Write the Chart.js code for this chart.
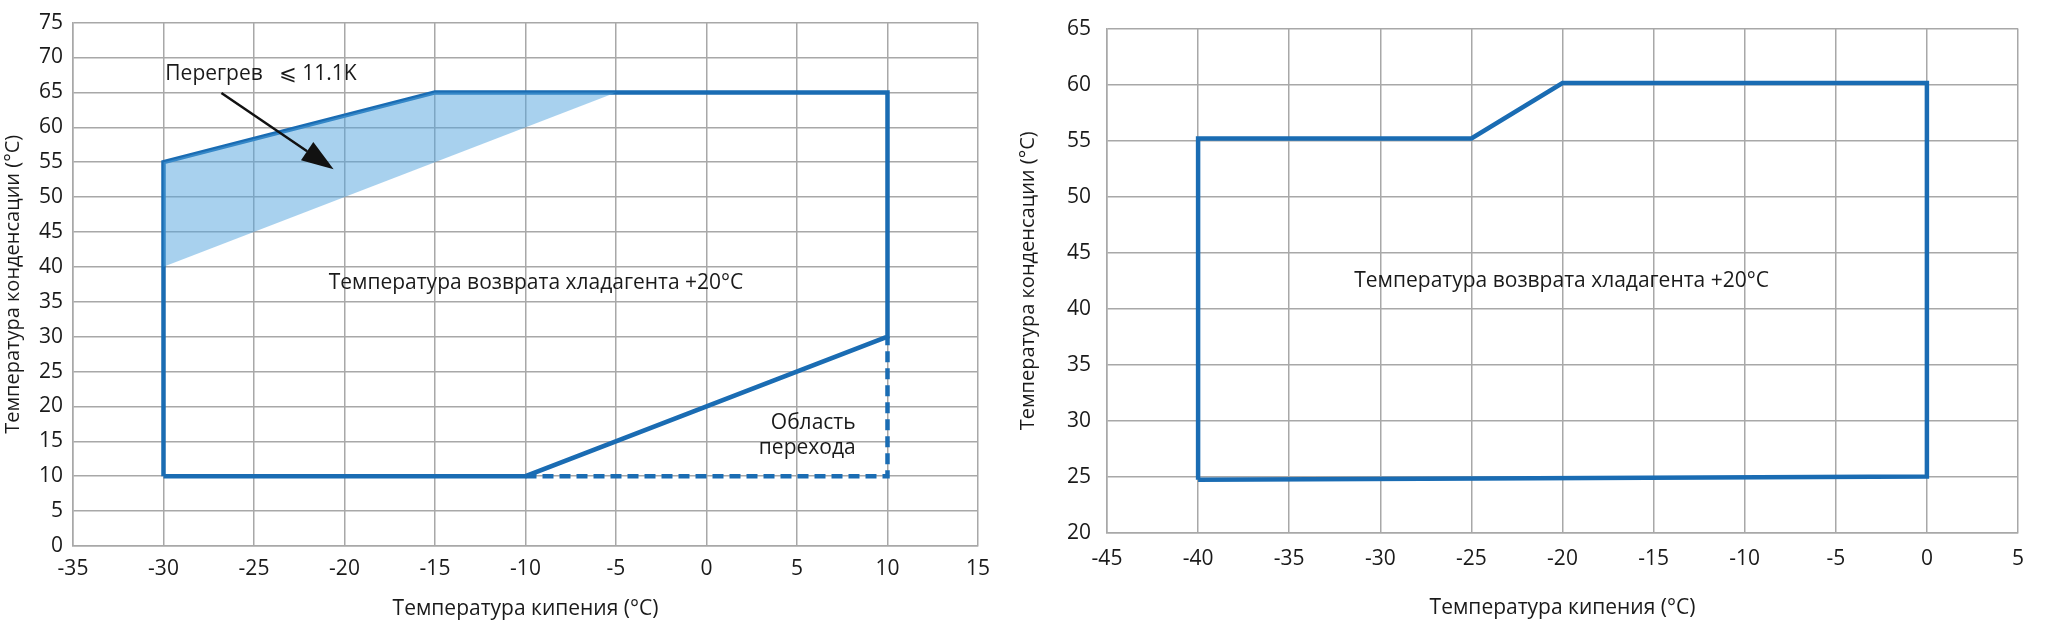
<!DOCTYPE html>
<html>
<head>
<meta charset="utf-8">
<script src="https://cdn.jsdelivr.net/npm/chart.js@4.4.1/dist/chart.umd.min.js"></script>
<style>
  html, body { margin: 0; padding: 0; background: #fff; }
  #wrap { position: relative; width: 2045px; height: 637px; }
  .box { position: absolute; top: 0; height: 637px; }
</style>
</head>
<body>
<div id="wrap">
  <div class="box" style="left:0; width:1000px;"><canvas id="left"></canvas></div>
  <div class="box" style="left:1000px; width:1045px;"><canvas id="right"></canvas></div>
</div>
<script>
// --- left chart: envelope with +20°C return gas, superheat band ---
const LEFT_X_TICKS = [-35, -30, -25, -20, -15, -10, -5, 0, 5, 10, 15];
const LEFT_Y_TICKS = [0, 5, 10, 15, 20, 25, 30, 35, 40, 45, 50, 55, 60, 65, 70, 75];
const LEFT_OUTLINE_X = [-30, -30, -15, 10, 10, -10, -30];
const LEFT_OUTLINE_Y = [10, 55, 65, 65, 30, 10, 10];
const LEFT_DASHED_X = [-10, 10, 10];
const LEFT_DASHED_Y = [10, 10, 30];
const SUPERHEAT_X = [-30, -15, -5, -30];
const SUPERHEAT_Y = [55, 65, 65, 40];
const ARROW_X = [-26.8, -20.6];
const ARROW_Y = [64.9, 54];

// --- right chart ---
const RIGHT_X_TICKS = [-45, -40, -35, -30, -25, -20, -15, -10, -5, 0, 5];
const RIGHT_Y_TICKS = [20, 25, 30, 35, 40, 45, 50, 55, 60, 65];
const RIGHT_OUTLINE_X = [-40, -40, -25, -20, 0, 0, -40];
const RIGHT_OUTLINE_Y = [24.75, 55.2, 55.2, 60.15, 60.15, 25.05, 24.75];

const X_TITLE = 'Температура кипения (°C)';
const Y_TITLE = 'Температура конденсации (°C)';
const RETURN_TEXT = 'Температура возврата хладагента +20°C';

const BLUE = '#1a6cb3';
const GRID = '#a8a8a8';
const INK = '#1a1a1a';
const FONT = "'Open Sans', 'DejaVu Sans', sans-serif";

const pts = (xs, ys) => xs.map((x, i) => ({ x, y: ys[i] }));

// text notes and the arrow, placed in data units
const notesPlugin = {
  id: 'notes',
  afterDatasetsDraw(chart, args, opts) {
    const { ctx, scales: { x, y } } = chart;
    ctx.save();
    if (opts.arrow) {
      const [x0, x1] = opts.arrow.x.map(v => x.getPixelForValue(v));
      const [y0, y1] = opts.arrow.y.map(v => y.getPixelForValue(v));
      const a = Math.atan2(y1 - y0, x1 - x0);
      const headLen = 32, headW = 11;
      const bx = x1 - Math.cos(a) * headLen, by = y1 - Math.sin(a) * headLen;
      ctx.strokeStyle = '#111';
      ctx.lineWidth = 2.5;
      ctx.beginPath();
      ctx.moveTo(x0, y0);
      ctx.lineTo(bx, by);
      ctx.stroke();
      ctx.fillStyle = '#111';
      ctx.beginPath();
      ctx.moveTo(x1, y1);
      ctx.lineTo(bx + Math.sin(a) * headW, by - Math.cos(a) * headW);
      ctx.lineTo(bx - Math.sin(a) * headW, by + Math.cos(a) * headW);
      ctx.closePath();
      ctx.fill();
    }
    ctx.fillStyle = INK;
    ctx.textBaseline = 'middle';
    (opts.texts || []).forEach(t => {
      ctx.font = `${t.size || 21}px ${FONT}`;
      ctx.textAlign = t.align || 'center';
      ctx.fillText(t.text, x.getPixelForValue(t.x), y.getPixelForValue(t.y));
    });
    ctx.restore();
  },
};

function axes(xTicks, yTicks, yWidth, xHeight, yTitlePad, xTitlePad, xTickPad, yTickPad) {
  const tickFont = { family: FONT, size: 21 };
  const titleFont = { family: FONT, size: 21 };
  return {
    x: {
      type: 'linear',
      min: xTicks[0],
      max: xTicks[xTicks.length - 1],
      afterBuildTicks: s => { s.ticks = xTicks.map(v => ({ value: v })); },
      afterFit: s => { s.height = xHeight; },
      grid: { color: GRID, lineWidth: 1.5, drawTicks: false },
      border: { color: GRID, width: 1.5 },
      ticks: { color: INK, font: tickFont, padding: xTickPad, maxRotation: 0 },
      title: { display: true, text: X_TITLE, color: INK, font: titleFont, padding: { top: 0, bottom: xTitlePad } },
    },
    y: {
      type: 'linear',
      min: yTicks[0],
      max: yTicks[yTicks.length - 1],
      afterBuildTicks: s => { s.ticks = yTicks.map(v => ({ value: v })); },
      afterFit: s => { s.width = yWidth; },
      grid: { color: GRID, lineWidth: 1.5, drawTicks: false },
      border: { color: GRID, width: 1.5 },
      ticks: { color: INK, font: tickFont, padding: yTickPad },
      title: { display: true, text: Y_TITLE, color: INK, font: { family: FONT, size: 20 }, padding: { top: yTitlePad, bottom: 0 } },
    },
  };
}

const lineSet = (data, extra) => Object.assign({
  data,
  showLine: true,
  borderColor: BLUE,
  borderWidth: 4.5,
  pointRadius: 0,
  fill: false,
  tension: 0,
  borderJoinStyle: 'miter',
}, extra);

new Chart(document.getElementById('left'), {
  type: 'scatter',
  data: {
    datasets: [
      lineSet(pts(SUPERHEAT_X, SUPERHEAT_Y).concat([{ x: SUPERHEAT_X[0], y: SUPERHEAT_Y[0] }]), {
        borderWidth: 0, borderColor: 'rgba(0,0,0,0)', backgroundColor: 'rgba(81,163,221,0.5)', fill: 'shape',
      }),
      lineSet(pts(LEFT_OUTLINE_X, LEFT_OUTLINE_Y)),
      lineSet(pts(LEFT_DASHED_X, LEFT_DASHED_Y), { borderDash: [11, 6] }),
    ],
  },
  options: {
    responsive: true,
    maintainAspectRatio: false,
    animation: false,
    layout: { padding: { top: 21, right: 17, left: 0, bottom: 0 } },
    scales: axes(LEFT_X_TICKS, LEFT_Y_TICKS, 73, 91, 1, 15, 10, 10),
    plugins: {
      legend: { display: false },
      tooltip: { enabled: false },
      notes: {
        arrow: { x: ARROW_X, y: ARROW_Y },
        texts: [
          { text: 'Перегрев   ⩽ 11.1K', x: -29.9, y: 67.7, align: 'left' },
          { text: RETURN_TEXT, x: -9.42, y: 37.7 },
          { text: 'Область', x: 8.24, y: 17.6, align: 'right' },
          { text: 'перехода', x: 8.24, y: 14.0, align: 'right' },
        ],
      },
    },
  },
  plugins: [notesPlugin],
});

new Chart(document.getElementById('right'), {
  type: 'scatter',
  data: {
    datasets: [lineSet(pts(RIGHT_OUTLINE_X, RIGHT_OUTLINE_Y))],
  },
  options: {
    responsive: true,
    maintainAspectRatio: false,
    animation: false,
    layout: { padding: { top: 10, right: 27, left: 0, bottom: 0 } },
    scales: axes(RIGHT_X_TICKS, RIGHT_Y_TICKS, 107, 104, 16, 16, 13, 16),
    plugins: {
      legend: { display: false },
      tooltip: { enabled: false },
      notes: {
        texts: [{ text: RETURN_TEXT, x: -20.05, y: 42.5 }],
      },
    },
  },
  plugins: [notesPlugin],
});
</script>
</body>
</html>
